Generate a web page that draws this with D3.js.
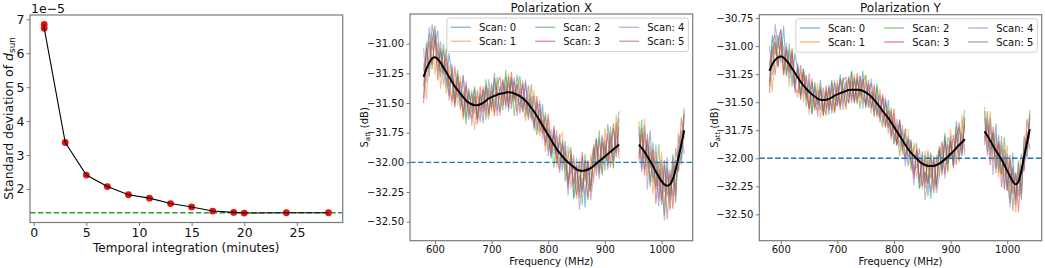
<!DOCTYPE html>
<html><head><meta charset="utf-8">
<script src="https://cdn.jsdelivr.net/npm/d3@7"></script>
<style>body{margin:0;background:#fff} svg{display:block} text{font-family:"DejaVu Sans",sans-serif;fill:#111}</style>
</head><body><svg id="c" width="1045" height="268"></svg>
<script>
// ---------- left panel data ----------
const integMinutes = [1, 1, 3, 5, 7, 9, 11, 13, 15, 17, 19, 20, 24, 28];
const stdDev = [6.85, 6.74, 3.37, 2.41, 2.07, 1.83, 1.73, 1.57, 1.47, 1.35, 1.31, 1.29, 1.30, 1.30]; // x 1e-5
const stdRef = 1.30;
const leftXTicks = [0, 5, 10, 15, 20, 25];
const leftYTicks = [2, 3, 4, 5, 6, 7];

// ---------- spectra data ----------
const freqSeg1 = d3.range(580, 926, 5);   // 580..925 MHz
const freqSeg2 = d3.range(960, 1041, 5);  // 960..1040 MHz
const freqTicks = [600, 700, 800, 900, 1000];
const refLevel = -32.0;
const yTicksPolX = [-31.00, -31.25, -31.50, -31.75, -32.00, -32.25, -32.50];
const yTicksPolY = [-30.75, -31.00, -31.25, -31.50, -31.75, -32.00, -32.25, -32.50];
const scanLabels = ["Scan: 0", "Scan: 1", "Scan: 2", "Scan: 3", "Scan: 4", "Scan: 5"];

// smooth fit (black), dB
const fitX1 = [-31.28,-31.21,-31.16,-31.12,-31.11,-31.13,-31.16,-31.20,-31.24,-31.28,
  -31.32,-31.36,-31.39,-31.42,-31.45,-31.48,-31.50,-31.51,-31.52,-31.52,
  -31.51,-31.50,-31.48,-31.46,-31.45,-31.44,-31.43,-31.42,-31.42,-31.41,
  -31.41,-31.41,-31.42,-31.43,-31.44,-31.46,-31.48,-31.51,-31.54,-31.57,
  -31.61,-31.65,-31.69,-31.73,-31.77,-31.81,-31.85,-31.89,-31.92,-31.95,
  -31.98,-32.00,-32.02,-32.04,-32.06,-32.07,-32.07,-32.07,-32.06,-32.05,
  -32.03,-32.01,-31.99,-31.97,-31.95,-31.93,-31.91,-31.89,-31.87,-31.85];
const fitX2 = [-31.85,-31.88,-31.91,-31.95,-31.99,-32.03,-32.08,-32.12,-32.16,-32.19,
  -32.20,-32.19,-32.15,-32.06,-31.96,-31.85,-31.73];
const fitY1 = [-31.22,-31.16,-31.12,-31.10,-31.09,-31.10,-31.13,-31.16,-31.20,-31.24,
  -31.28,-31.32,-31.35,-31.38,-31.41,-31.43,-31.45,-31.47,-31.48,-31.48,
  -31.48,-31.47,-31.46,-31.44,-31.43,-31.42,-31.41,-31.40,-31.39,-31.39,
  -31.39,-31.39,-31.39,-31.40,-31.41,-31.43,-31.45,-31.48,-31.51,-31.54,
  -31.58,-31.61,-31.64,-31.68,-31.72,-31.76,-31.80,-31.84,-31.88,-31.92,
  -31.95,-31.98,-32.00,-32.03,-32.05,-32.06,-32.07,-32.07,-32.07,-32.06,
  -32.05,-32.03,-32.01,-31.99,-31.96,-31.94,-31.91,-31.88,-31.86,-31.83];
const fitY2 = [-31.76,-31.80,-31.84,-31.89,-31.93,-31.97,-32.01,-32.06,-32.11,-32.16,
  -32.21,-32.24,-32.22,-32.12,-31.98,-31.86,-31.74];

// per-scan deviation from the fit, in 0.01 dB (70 values segment 1, then 17 values segment 2)
const scanX0 = [-18,22,-5,28,10,24,-8,15,-12,20, 3,-14,12,-6,18,-15,9,-3,16,-11, 7,-17,13,2,-9,19,-13,6,-4,14,
  -16,11,-7,17,-2,-12,15,-8,10,-14, 12,-5,18,-10,6,-16,13,-3,9,-12, 16,-22,8,-27,4,-18,12,-31,6,-15, 10,22,-8,18,-12,25,3,-10,20,-6,
  15,-18,22,-9,26,-14,10,-25,18,-6,24,-20,12,-28,19,-10,14];
const scanX1 = [12,-26,8,20,-15,14,-22,5,-18,10, -20,6,-13,15,-19,4,-10,12,-21,8, -12,14,-6,-18,10,-14,7,-19,12,-8,
  16,-10,4,-15,13,-6,-17,9,-11,18, -4,-13,11,-18,14,-7,8,-15,12,20, -9,14,-20,6,-25,10,-16,3,-24,12, -14,16,5,-12,24,-6,13,-15,27,-9,
  20,-12,28,-16,8,-24,17,-8,25,-18,9,-22,14,-26,21,-4,16];
const scanX2 = [5,15,25,-10,18,6,-12,20,-4,-16, 13,-9,17,-14,5,-20,11,-7,14,-12, 9,-4,18,-15,12,-9,15,-3,-14,19,
  -8,13,-19,6,17,-10,3,-13,20,-7, -16,10,-6,15,-13,4,-20,11,-9,14, -18,5,15,-26,-10,7,-29,14,-12,-20, 18,-4,26,-14,9,-6,21,-16,12,28,
  -8,24,-15,10,-22,20,-12,27,-5,-26,15,-10,22,-18,6,-14,19];
const scanX3 = [-22,8,18,-6,14,-18,10,-6,14,-10, -16,17,-6,10,-17,13,-5,-12,8,-16, 15,-8,11,-13,5,-17,9,14,-10,6,
  -13,17,-5,9,-15,12,-8,16,-3,-12, 17,-9,5,-13,18,-11,16,-6,-14,11, -5,-19,12,-14,3,-23,16,-9,8,-19, 6,20,-11,14,-2,17,-13,22,-5,15,
  -14,12,-20,19,-6,14,-27,6,-16,21,-9,13,-24,8,-12,23,-7];
const scanX4 = [24,-12,30,6,22,-2,18,-15,8,-20, 15,-16,7,-12,19,-6,13,-18,6,-3, -15,11,-9,16,-6,10,-18,3,12,-14,
  8,-6,14,-18,7,-9,18,-12,5,-16, 9,14,-12,5,-18,9,-8,16,-17,6, 11,-28,4,-17,10,-33,-6,-21,5,-27, -8,14,-15,20,4,-10,16,-7,11,-12,
  10,-20,16,-28,13,-10,23,-19,11,-30,16,-12,20,-22,10,-17,12];
const scanX5 = [-8,18,-12,14,26,-10,12,-4,20,-8, 7,-18,14,-2,-12,16,-14,10,-7,13, -6,12,-16,9,-12,15,2,-16,10,-11,
  13,-14,11,-4,-8,15,-13,4,-9,13, -12,17,-7,12,-4,-14,10,-11,16,-6, 8,-14,-6,10,-22,-4,-18,9,-26,2, 15,-10,19,-4,14,-13,8,18,-9,22,
  -11,17,-6,14,-18,8,-15,12,-20,17,-28,9,-14,18,-10,12,-20];

const scanY0 = [-14,26,4,20,-6,28,-12,12,-16,18, 6,-12,15,-8,11,-17,8,-6,18,-10, 9,-14,14,-3,-11,17,-10,8,-6,16,
  -12,9,-5,18,-14,4,12,-10,15,-7, 13,-9,16,-14,7,-11,15,-6,10,-15, 12,-20,7,-24,11,-15,5,-29,9,-17, 13,-9,21,-6,16,-13,24,2,-12,18,
  18,-14,20,-7,24,-16,12,-22,15,-10,26,-18,10,-25,17,-8,12];
const scanY1 = [10,-25,14,-10,18,-16,6,-20,12,-14, -18,9,-15,12,-20,3,-12,14,-16,5, -14,11,-8,-16,13,-12,4,-17,10,-6,
  14,-13,6,-11,15,-8,-15,11,-13,16, -6,-12,9,-16,12,-10,6,-13,14,17, -11,12,-18,4,-23,13,-14,2,-22,9, -12,14,8,-14,22,-4,11,-16,25,-11,
  22,-10,26,-14,6,-21,15,-11,23,-20,11,-24,12,-23,19,-6,14];
const scanY2 = [3,20,22,-8,16,8,-14,18,-6,-13, 11,-11,15,-16,7,-18,13,-5,12,-14, 7,-6,16,-13,10,-11,13,-5,-12,17,
  -10,11,-17,8,15,-12,5,-15,18,-9, -14,12,-8,13,-15,6,-18,9,-11,12, -16,7,13,-24,-12,9,-27,12,-14,-18, 16,-6,24,-12,11,-8,19,-14,10,26,
  -6,22,-13,12,-20,18,-14,25,-7,-24,13,-12,20,-16,8,-12,17];
const scanY3 = [-20,10,16,-8,12,-16,12,-8,16,-12, -14,15,-8,12,-15,11,-7,-10,10,-14, 13,-10,9,-15,7,-15,11,12,-12,8,
  -11,15,-7,11,-13,10,-10,14,-5,-10, 15,-11,7,-11,16,-13,14,-8,-12,9, -7,-17,10,-16,5,-21,14,-11,6,-21, 8,18,-13,12,-4,15,-15,20,-7,13,
  -12,10,-22,17,-8,12,-25,8,-18,19,-11,11,-26,6,-14,21,-9];
const scanY4 = [22,-10,32,8,24,-4,16,-13,10,-18, 13,-14,9,-10,17,-8,11,-16,8,-5, -13,13,-11,14,-8,12,-16,5,10,-12,
  10,-8,12,-16,9,-11,16,-14,7,-14, 11,12,-14,7,-16,11,-10,14,-19,8, 9,-26,6,-19,8,-31,-8,-23,7,-25, -10,12,-17,18,6,-12,14,-9,9,-14,
  12,-18,14,-26,15,-12,21,-21,9,-28,14,-14,18,-20,12,-15,10];
const scanY5 = [-10,16,-14,12,24,-12,10,-6,18,-10, 9,-16,12,-4,-14,14,-12,8,-9,11, -8,10,-14,11,-10,13,4,-14,12,-9,
  11,-12,13,-6,-10,13,-11,6,-11,11, -10,15,-9,10,-6,-12,12,-9,14,-8, 10,-12,-8,12,-20,-6,-16,11,-24,4, 13,-12,17,-6,12,-15,10,16,-11,20,
  -9,15,-8,12,-16,10,-13,14,-18,15,-26,11,-12,16,-12,10,-18];

const scanColors = ["#1f77b4", "#ff7f0e", "#2ca02c", "#d62728", "#9467bd", "#8c564b"];

// ---------- drawing ----------
const svg = d3.select("#c");
svg.append("rect").attr("width", 1045).attr("height", 268).attr("fill", "#fff");
const frameColor = "#7a7a7a";

function styleAxis(g, fs) {
  g.select(".domain").remove();
  g.selectAll(".tick line").attr("stroke", frameColor).attr("stroke-width", 1);
  g.selectAll(".tick text").attr("font-size", fs).attr("fill", "#111")
    .attr("font-family", "DejaVu Sans, sans-serif");
}
function frame(x0, x1, y0, y1) {
  svg.append("rect").attr("x", x0).attr("y", y0).attr("width", x1 - x0).attr("height", y1 - y0)
    .attr("fill", "none").attr("stroke", frameColor).attr("stroke-width", 1.2);
}

// ----- left panel -----
(function () {
  const L = 30, R = 342.7, T = 15, B = 222.5;
  const x = d3.scaleLinear().domain([-0.35, 29.35]).range([L, R]);
  const y = d3.scaleLinear().domain([1.012, 7.128]).range([B, T]);
  svg.append("g").attr("transform", `translate(0,${B})`)
    .call(d3.axisBottom(x).tickValues(leftXTicks).tickSize(3.5).tickPadding(2).tickFormat(d3.format("d")))
    .call(g => styleAxis(g, 12.5));
  svg.append("g").attr("transform", `translate(${L},0)`)
    .call(d3.axisLeft(y).tickValues(leftYTicks).tickSize(3.5).tickPadding(2).tickFormat(d3.format("d")))
    .call(g => styleAxis(g, 12.5));
  svg.append("line").attr("x1", L).attr("x2", R).attr("y1", y(stdRef)).attr("y2", y(stdRef))
    .attr("stroke", "#2ca02c").attr("stroke-width", 1.5).attr("stroke-dasharray", "5.5,2.4");
  const pts = integMinutes.map((m, i) => [m, stdDev[i]]);
  svg.append("g").selectAll("circle").data(pts).join("circle")
    .attr("cx", d => x(d[0])).attr("cy", d => y(d[1])).attr("r", 3.4).attr("fill", "#ec1010");
  svg.append("path").datum(pts).attr("fill", "none").attr("stroke", "#000").attr("stroke-width", 1.1)
    .attr("d", d3.line().x(d => x(d[0])).y(d => y(d[1])));
  frame(L, R, T, B);
  svg.append("text").attr("x", 186.3).attr("y", 252).attr("text-anchor", "middle").attr("font-size", 12)
    .text("Temporal integration (minutes)");
  svg.append("text").attr("x", 31).attr("y", 12.5).attr("font-size", 12.5).text("1e\u22125");
  const yl = svg.append("text").attr("transform", "translate(12.5,118.5) rotate(-90)")
    .attr("text-anchor", "middle").attr("font-size", 12.5);
  yl.append("tspan").text("Standard deviation of ");
  yl.append("tspan").attr("font-style", "italic").text("d");
  yl.append("tspan").attr("font-size", 8.8).attr("dy", 2.8).text("sun");
})();

// ----- spectra panels -----
function spectrum(cfg) {
  const { L, R, T, B, xDom, yDom, yTicks, fit1, fit2, scans, title, ylabX } = cfg;
  const x = d3.scaleLinear().domain(xDom).range([L, R]);
  const y = d3.scaleLinear().domain(yDom).range([B, T]);
  svg.append("g").attr("transform", `translate(0,${B})`)
    .call(d3.axisBottom(x).tickValues(freqTicks).tickSize(3.5).tickPadding(2).tickFormat(d3.format("d")))
    .call(g => styleAxis(g, 10));
  svg.append("g").attr("transform", `translate(${L},0)`)
    .call(d3.axisLeft(y).tickValues(yTicks).tickSize(3.5).tickPadding(2.5).tickFormat(d3.format(".2f")))
    .call(g => styleAxis(g, 10));
  const line = d3.line().x(d => x(d[0])).y(d => y(d[1]));
  const gS = svg.append("g").attr("stroke-width", 1.1).attr("fill", "none").attr("stroke-opacity", 0.5);
  scans.forEach((dev, k) => {
    const s1 = freqSeg1.map((f, i) => [f, fit1[i] + dev[i] / 100]);
    const s2 = freqSeg2.map((f, i) => [f, fit2[i] + dev[freqSeg1.length + i] / 100]);
    [s1, s2].forEach(s => gS.append("path").datum(s).attr("stroke", scanColors[k]).attr("d", line));
  });
  svg.append("line").attr("x1", L).attr("x2", R).attr("y1", y(refLevel)).attr("y2", y(refLevel))
    .attr("stroke", "#1f77b4").attr("stroke-width", 1.4).attr("stroke-dasharray", "5.5,2.4");
  [freqSeg1.map((f, i) => [f, fit1[i]]), freqSeg2.map((f, i) => [f, fit2[i]])].forEach(s =>
    svg.append("path").datum(s).attr("fill", "none").attr("stroke", "#000").attr("stroke-width", 2)
      .attr("d", d3.line().x(d => x(d[0])).y(d => y(d[1])).curve(d3.curveBasis)));
  frame(L, R, T, B);
  const cx = (L + R) / 2;
  svg.append("text").attr("x", cx).attr("y", 11.5).attr("text-anchor", "middle").attr("font-size", 12).text(title);
  svg.append("text").attr("x", cx).attr("y", 264.5).attr("text-anchor", "middle").attr("font-size", 10).text("Frequency (MHz)");
  const yl = svg.append("text").attr("transform", `translate(${ylabX},${(T + B) / 2}) rotate(-90)`)
    .attr("text-anchor", "middle").attr("font-size", 10);
  yl.append("tspan").text("S");
  yl.append("tspan").attr("font-size", 7).attr("dy", 2).text("att");
  yl.append("tspan").attr("dy", -2).text(" (dB)");
  // legend
  const lw = 241.5, lh = 33.5, lx = R - 4.3 - lw, ly = T + 4;
  const lg = svg.append("g");
  lg.append("rect").attr("x", lx).attr("y", ly).attr("width", lw).attr("height", lh).attr("rx", 2.5)
    .attr("fill", "#fff").attr("fill-opacity", 0.8).attr("stroke", "#d0d0d0").attr("stroke-width", 1);
  const colText = [32, 116.3, 200.3];
  scanLabels.forEach((lab, k) => {
    const c = Math.floor(k / 2), r = k % 2;
    const tx = lx + colText[c], yy = ly + 9.3 + r * 14;
    lg.append("line").attr("x1", tx - 28).attr("x2", tx - 8).attr("y1", yy).attr("y2", yy)
      .attr("stroke", scanColors[k]).attr("stroke-opacity", 0.5).attr("stroke-width", 1.5);
    lg.append("text").attr("x", tx).attr("y", yy + 3.6).attr("font-size", 10).text(lab);
  });
}

spectrum({ L: 410, R: 692.7, T: 14, B: 240.7, xDom: [556, 1055], yDom: [-32.66, -30.75], yTicks: yTicksPolX,
  fit1: fitX1, fit2: fitX2, scans: [scanX0, scanX1, scanX2, scanX3, scanX4, scanX5], title: "Polarization X", ylabX: 368 });
spectrum({ L: 759.3, R: 1041.7, T: 14.7, B: 240.7, xDom: [562, 1061], yDom: [-32.735, -30.72], yTicks: yTicksPolY,
  fit1: fitY1, fit2: fitY2, scans: [scanY0, scanY1, scanY2, scanY3, scanY4, scanY5], title: "Polarization Y", ylabX: 718 });
</script></body></html>
